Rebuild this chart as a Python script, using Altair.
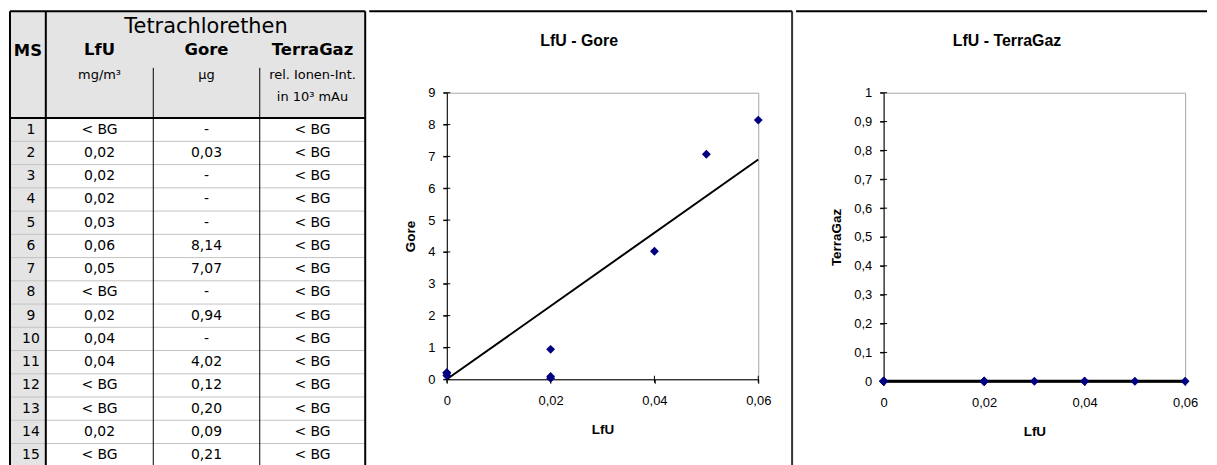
import altair as alt
import pandas as pd

# ---------------- data (as printed in the table) ----------------
MS = [str(i) for i in range(1, 16)]
LFU = ["< BG", "0,02", "0,02", "0,02", "0,03", "0,06", "0,05", "< BG",
       "0,02", "0,04", "0,04", "< BG", "< BG", "0,02", "< BG"]
GORE = ["-", "0,03", "-", "-", "-", "8,14", "7,07", "-",
        "0,94", "-", "4,02", "0,12", "0,20", "0,09", "0,21"]
TERRAGAZ = ["< BG"] * 15

TABLE_TITLE = "Tetrachlorethen"
COL_NAMES = ["MS", "LfU", "Gore", "TerraGaz"]
UNITS_1 = ["", "mg/m³", "µg", "rel. Ionen-Int."]
UNITS_2 = ["", "", "", "in 10³ mAu"]

X_TICKS = [0, 0.02, 0.04, 0.06]
GORE_TICKS = [0, 1, 2, 3, 4, 5, 6, 7, 8, 9]
TG_TICKS = [0, 0.1, 0.2, 0.3, 0.4, 0.5, 0.6, 0.7, 0.8, 0.9, 1]


def parse(v):
    if v == "-":
        return None
    if v.startswith("<"):
        return 0.0
    return float(v.replace(",", "."))


lfu_num = [parse(v) for v in LFU]
gore_num = [parse(v) for v in GORE]
tg_num = [parse(v) for v in TERRAGAZ]

pairs1 = [(a, b) for a, b in zip(lfu_num, gore_num) if a is not None and b is not None]
pairs2 = [(a, b) for a, b in zip(lfu_num, tg_num) if a is not None and b is not None]
df1 = pd.DataFrame(pairs1, columns=["lfu", "val"])
df2 = pd.DataFrame(pairs2, columns=["lfu", "val"])


def trend(df):
    # linear trend forced through the origin (as in the spreadsheet)
    sxx = (df.lfu * df.lfu).sum()
    slope = (df.lfu * df.val).sum() / sxx if sxx else 0.0
    xmax = df.lfu.max()
    return pd.DataFrame({"lfu": [0.0, xmax], "val": [0.0, slope * xmax]})


tr1 = trend(df1)
tr2 = trend(df2)

# ---------------- layout (pixels) ----------------
TW = 358          # table panel width
TH = 459          # table height from its top
YOFF = -83        # table top relative to plot origin of the charts
COL_EDGES = [1, 37, 145, 252, 358]
COL_CX = [22, 91, 198.5, 305]
HEAD_H = 108.5
ROW_H = 23.36
TFONT = "DejaVu Sans"
CFONT = "Liberation Sans"

xs = alt.Scale(domain=[0, TW], range=[0, TW])
ys = alt.Scale(domain=[0, TH], range=[YOFF, TH + YOFF])

rects = pd.DataFrame({
    "x": [COL_EDGES[0], COL_EDGES[0]],
    "x2": [COL_EDGES[-1], COL_EDGES[1]],
    "y": [1, HEAD_H],
    "y2": [HEAD_H, TH],
    "c": ["#e4e4e4", "#e4e4e4"],
})

lines = []
for k in range(1, 15):
    yy = HEAD_H + k * ROW_H
    lines.append((COL_EDGES[0], COL_EDGES[-1], yy, yy, "#c4c4c4", 1))
for xx in (COL_EDGES[2], COL_EDGES[3]):
    lines.append((xx, xx, 58, TH, "#000000", 1))
lines.append((COL_EDGES[0], COL_EDGES[-1], 1, 1, "#000000", 2))
lines.append((COL_EDGES[0], COL_EDGES[-1], HEAD_H, HEAD_H, "#000000", 2))
for xx in (COL_EDGES[0], COL_EDGES[1], COL_EDGES[-1]):
    lines.append((xx, xx, 1, TH, "#000000", 2))
lines = pd.DataFrame(lines, columns=["x", "x2", "y", "y2", "c", "w"])

cells = []
for r in range(15):
    yy = HEAD_H + (r + 0.5) * ROW_H
    for ci, col in enumerate([MS, LFU, GORE, TERRAGAZ]):
        cells.append((COL_CX[ci], yy, col[r]))
cells = pd.DataFrame(cells, columns=["x", "y", "t"])

heads = pd.DataFrame({"x": [19] + COL_CX[1:], "y": [41, 40, 40, 40], "t": COL_NAMES})
units = pd.DataFrame({
    "x": COL_CX[1:] + [COL_CX[3]],
    "y": [65, 65, 65, 87],
    "t": UNITS_1[1:] + [UNITS_2[3]],
})
ttl = pd.DataFrame({"x": [198], "y": [17], "t": [TABLE_TITLE]})

rect_l = alt.Chart(rects).mark_rect().encode(
    x=alt.X("x:Q", scale=xs, axis=None), x2="x2:Q",
    y=alt.Y("y:Q", scale=ys, axis=None), y2="y2:Q",
    color=alt.Color("c:N", scale=None))
line_l = alt.Chart(lines).mark_rule().encode(
    x=alt.X("x:Q", scale=xs, axis=None), x2="x2:Q",
    y=alt.Y("y:Q", scale=ys, axis=None), y2="y2:Q",
    color=alt.Color("c:N", scale=None),
    strokeWidth=alt.StrokeWidth("w:Q", scale=None))


def text_layer(df, size, weight="normal"):
    return alt.Chart(df).mark_text(font=TFONT, fontSize=size, fontWeight=weight,
                                   color="#000000", baseline="middle", align="center").encode(
        x=alt.X("x:Q", scale=xs, axis=None),
        y=alt.Y("y:Q", scale=ys, axis=None),
        text="t:N")


table = alt.layer(
    rect_l, line_l,
    text_layer(ttl, 21),
    text_layer(heads, 16.5, "bold"),
    text_layer(units, 13),
    text_layer(cells, 14),
).properties(width=TW, height=TH + YOFF, view=alt.ViewBackground(stroke="transparent"))

dummy = pd.DataFrame({"a": [0]})


def scatter(df, tr, title, ytitle, ydom, yticks, yfmt, w, h, left, right, dx,
            trend_w=2, extra=None):
    xenc = alt.X("lfu:Q", scale=alt.Scale(domain=[0, 0.06], nice=False, zero=True),
                 axis=alt.Axis(values=X_TICKS, title="LfU", labelOverlap=False, labelFlush=False,
                               labelExpr="replace(format(datum.value, '.2~f'), '.', ',')",
                               labelPadding=11, titlePadding=15))
    yenc = alt.Y("val:Q", scale=alt.Scale(domain=ydom, nice=False),
                 axis=alt.Axis(values=yticks, title=ytitle, labelOverlap=False, labelFlush=False,
                               labelExpr="replace(format(datum.value, '" + yfmt + "'), '.', ',')",
                               labelPadding=8, titlePadding=10))
    xt = alt.Chart(pd.DataFrame({"lfu": X_TICKS})).mark_tick(
        orient="vertical", size=7, thickness=1, color="#000000", opacity=1).encode(
        x=xenc, y=alt.value(h))
    yt = alt.Chart(pd.DataFrame({"val": yticks})).mark_tick(
        orient="horizontal", size=7, thickness=1, color="#000000", opacity=1).encode(
        y=yenc, x=alt.value(0))
    pts = alt.Chart(df).mark_point(shape="diamond", filled=True, size=80,
                                   color="#000080", opacity=1).encode(x=xenc, y=yenc)
    ln = alt.Chart(tr).mark_line(color="#000000", strokeWidth=trend_w).encode(x=xenc, y=yenc)
    top = alt.Chart(dummy).mark_rule(color="#000000", strokeWidth=2).encode(
        x=alt.value(left), x2=alt.value(right), y=alt.value(YOFF + 1))
    layers = [top, xt, yt, ln, pts]
    if extra is not None:
        layers.append(extra)
    return alt.layer(*layers).properties(
        width=w, height=h,
        title=alt.TitleParams(title, font=CFONT, fontSize=16, fontWeight="bold",
                              anchor="middle", frame="group", dx=dx, offset=-52,
                              baseline="alphabetic", color="#000000"))


sep = alt.Chart(dummy).mark_rule(color="#333333", strokeWidth=2).encode(
    x=alt.value(347), y=alt.value(YOFF + 1), y2=alt.value(TH + YOFF))
c1 = scatter(df1, tr1, "LfU - Gore", "Gore", [0, 9], GORE_TICKS, "d",
             313, 288, -78, 347, -23.5, trend_w=2, extra=sep)
c2 = scatter(df2, tr2, "LfU - TerraGaz", "TerraGaz", [0, 1], TG_TICKS, ".1~f",
             303, 290, -88, 325, -27.5, trend_w=3)

chart = alt.hconcat(table, c1, c2, spacing=0).properties(padding=0).configure_view(
    stroke="#a6a6a6"
).configure_axis(
    labelFont=CFONT, labelFontSize=13, labelColor="#000000",
    titleFont=CFONT, titleFontSize=13.5, titleFontWeight="bold", titleColor="#000000",
    domainColor="#000000", tickColor="#000000", tickSize=4, grid=False
)

chart.save("out.html", embed_options={"renderer": "svg", "actions": False})
